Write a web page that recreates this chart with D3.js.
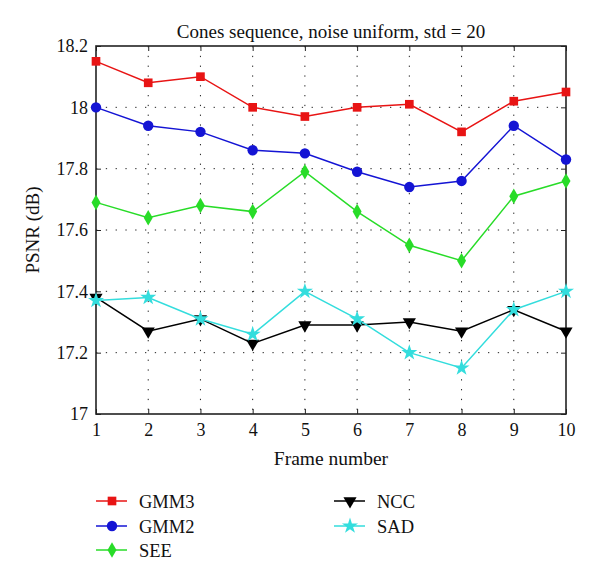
<!DOCTYPE html>
<html><head><meta charset="utf-8">
<script src="https://cdn.jsdelivr.net/npm/d3@7/dist/d3.min.js"></script>
<style>body{margin:0;background:#fff}text{font-family:"Liberation Serif","DejaVu Serif",serif;fill:#111}</style>
</head><body><svg id="c" width="600" height="580"></svg>
<script>
const frames = [1,2,3,4,5,6,7,8,9,10];
const yTicks = [17,17.2,17.4,17.6,17.8,18,18.2];
const gmm3 = [18.15,18.08,18.10,18.00,17.97,18.00,18.01,17.92,18.02,18.05];
const gmm2 = [18.00,17.94,17.92,17.86,17.85,17.79,17.74,17.76,17.94,17.83];
const see  = [17.69,17.64,17.68,17.66,17.79,17.66,17.55,17.50,17.71,17.76];
const ncc  = [17.38,17.27,17.31,17.23,17.29,17.29,17.30,17.27,17.34,17.27];
const sad  = [17.37,17.38,17.31,17.26,17.40,17.31,17.20,17.15,17.34,17.40];
const seriesNames = ["GMM3","GMM2","SEE","NCC","SAD"];
const title = "Cones sequence, noise uniform, std = 20";

const series = [
  {name:"GMM3", vals:gmm3, color:"#e81414", sym:d3.symbolSquare, size:75, rot:0},
  {name:"GMM2", vals:gmm2, color:"#1414d4", sym:d3.symbolCircle, size:85, rot:0},
  {name:"SEE",  vals:see,  color:"#28dc28", sym:d3.symbolDiamond, size:70, rot:0},
  {name:"NCC",  vals:ncc,  color:"#000000", sym:d3.symbolTriangle, size:75, rot:180},
  {name:"SAD",  vals:sad,  color:"#33dddd", sym:d3.symbolStar, size:80, rot:0}
];

const svg = d3.select("#c");
const L=96, R=566, T=46, B=414;
const x = d3.scaleLinear().domain([1,10]).range([L,R]);
const y = d3.scaleLinear().domain([17,18.2]).range([B,T]);

// grid
const g = svg.append("g");
g.selectAll(".gx").data(frames.slice(1,-1)).join("line")
  .attr("x1",d=>x(d)).attr("x2",d=>x(d)).attr("y1",T).attr("y2",B)
  .attr("stroke","#222").attr("stroke-width",1).attr("stroke-dasharray","1.3,8.5");
g.selectAll(".gy").data(yTicks.slice(1,-1)).join("line")
  .attr("x1",L).attr("x2",R).attr("y1",d=>y(d)).attr("y2",d=>y(d))
  .attr("stroke","#222").attr("stroke-width",1).attr("stroke-dasharray","1.3,8.5");

// axes
const xAxis = d3.axisBottom(x).tickValues(frames).tickSize(-5).tickPadding(9).tickFormat(d3.format("d"));
const yAxis = d3.axisLeft(y).tickValues(yTicks).tickSize(-5).tickPadding(8).tickFormat(d=>String(+d.toFixed(1)));
const gx = svg.append("g").attr("transform",`translate(0,${B})`).call(xAxis);
const gy = svg.append("g").attr("transform",`translate(${L},0)`).call(yAxis);
[gx,gy].forEach(a=>{a.select(".domain").remove(); a.selectAll("line").attr("stroke","#222");
  a.selectAll("text").style("font-size","18px").attr("fill","#111");});
// top/right ticks
svg.append("g").attr("transform",`translate(0,${T})`).call(d3.axisTop(x).tickValues(frames).tickSize(-5).tickFormat(""))
  .call(a=>{a.select(".domain").remove();a.selectAll("line").attr("stroke","#222");});
svg.append("g").attr("transform",`translate(${R},0)`).call(d3.axisRight(y).tickValues(yTicks).tickSize(-5).tickFormat(""))
  .call(a=>{a.select(".domain").remove();a.selectAll("line").attr("stroke","#222");});
svg.append("rect").attr("x",L).attr("y",T).attr("width",R-L).attr("height",B-T)
  .attr("fill","none").attr("stroke","#222").attr("stroke-width",1.6);

// lines
const line = d3.line().x((d,i)=>x(frames[i])).y(d=>y(d));
series.forEach(s=>{
  svg.append("path").datum(s.vals).attr("d",line).attr("fill","none")
    .attr("stroke",s.color).attr("stroke-width",1.5);
  svg.selectAll(null).data(s.vals).join("path")
    .attr("d",d3.symbol().type(s.sym).size(s.size))
    .attr("transform",(d,i)=>`translate(${x(frames[i])},${y(d)}) rotate(${s.rot})`)
    .attr("fill",s.color);
});

// texts
svg.append("text").attr("x",(L+R)/2).attr("y",38).attr("text-anchor","middle").style("font-size","19px").text(title);
svg.append("text").attr("x",(L+R)/2).attr("y",465).attr("text-anchor","middle").style("font-size","19.5px").text("Frame number");
svg.append("text").attr("transform",`translate(39,${(T+B)/2}) rotate(-90)`).attr("text-anchor","middle").style("font-size","19px").text("PSNR (dB)");

// legend
const legPos = [[96,501],[96,526],[96,550],[334,501],[334,526]];
series.forEach((s,i)=>{
  const [lx,ly]=legPos[i];
  svg.append("line").attr("x1",lx).attr("x2",lx+31).attr("y1",ly).attr("y2",ly).attr("stroke",s.color).attr("stroke-width",1.5);
  svg.append("path").attr("d",d3.symbol().type(s.sym).size(s.size)).attr("transform",`translate(${lx+16},${ly}) rotate(${s.rot})`).attr("fill",s.color);
  svg.append("text").attr("x",lx+43).attr("y",ly+6.5).style("font-size","18.5px").text(seriesNames[i]);
});
</script></body></html>
